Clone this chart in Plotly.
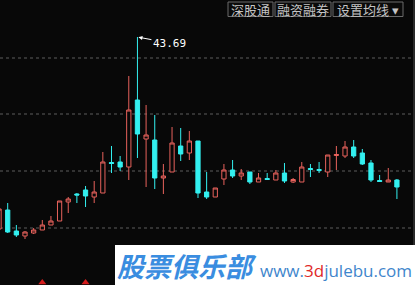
import plotly.graph_objects as go

# ---- data ----
idx = list(range(47))
opens = [24.49, 26.39, 24.29, 23.79, 24.09, 24.39, 24.89, 25.29, 27.19, 27.99,
         28.39, 27.69, 28.09, 31.14, 31.19, 30.69, 37.39, 33.49, 33.39, 29.59,
         30.19, 32.79, 32.09, 33.29, 28.19, 27.69, 29.49, 30.39, 29.79, 30.19,
         29.19, 29.54, 29.39, 30.09, 29.19, 29.19, 30.54, 30.44, 30.19, 31.84,
         31.79, 32.69, 32.09, 31.09, 29.34, 29.19, 29.39]
highs = [26.69, 27.09, 24.89, 24.29, 24.59, 25.39, 25.79, 27.29, 27.69, 28.09,
         28.79, 29.29, 32.19, 32.79, 31.79, 39.79, 43.69, 36.89, 35.89, 30.99,
         34.69, 34.59, 34.29, 33.29, 30.19, 28.59, 30.99, 31.39, 30.49, 30.19,
         30.09, 30.09, 30.39, 31.09, 29.59, 31.19, 30.99, 31.19, 31.89, 32.79,
         33.29, 33.39, 32.49, 31.39, 29.89, 30.59, 29.49]
lows = [24.39, 24.09, 23.69, 23.49, 23.99, 24.39, 24.89, 25.29, 26.09, 27.09,
        26.69, 27.09, 28.09, 30.09, 30.29, 29.39, 31.59, 28.69, 28.49, 27.99,
        30.19, 31.29, 31.39, 27.59, 27.49, 27.69, 28.89, 29.59, 29.39, 28.99,
        29.19, 29.39, 29.39, 29.09, 29.09, 29.19, 29.69, 30.09, 29.69, 30.39,
        31.59, 31.59, 30.89, 29.19, 29.19, 29.19, 27.49]
closes = [26.49, 24.19, 23.89, 24.19, 24.39, 24.89, 25.29, 27.29, 27.49, 27.89,
          27.79, 28.19, 31.19, 31.04, 30.69, 36.39, 33.99, 33.89, 29.59, 29.79,
          33.09, 31.99, 33.29, 28.09, 27.69, 28.59, 30.39, 29.79, 30.09, 29.19,
          29.59, 29.44, 30.09, 29.29, 29.44, 30.69, 30.44, 30.34, 31.89, 31.94,
          32.69, 31.79, 30.99, 29.39, 29.24, 29.39, 28.69]
grid_levels = [41.59, 35.99, 30.29, 24.59]
peak_label = "43.69"
peak_idx = 16
peak_price = 43.69
signal_idx = [5, 10]
signal_price = [19.15, 19.15]
buttons = ["深股通", "融资融券", "设置均线 ▾"]

W, H = 415, 285
UP = "#e8625c"
DOWN = "#33f0f0"

fig = go.Figure()
fig.add_trace(go.Candlestick(
    x=idx, open=opens, high=highs, low=lows, close=closes,
    increasing=dict(line=dict(color=UP, width=1), fillcolor="#080808"),
    decreasing=dict(line=dict(color=DOWN, width=1), fillcolor=DOWN),
    whiskerwidth=0, showlegend=False, hoverinfo="skip",
))
fig.add_trace(go.Scatter(
    x=signal_idx, y=signal_price, mode="markers",
    marker=dict(symbol="triangle-up", size=7, color="#d41c1c"),
    showlegend=False, hoverinfo="skip",
))

shapes = []
for g in grid_levels:
    shapes.append(dict(type="line", xref="paper", yref="y", x0=0, x1=411/W, y0=g, y1=g,
                       line=dict(color="#5c5c5c", width=1, dash="dot"), layer="below"))
# right border
shapes.append(dict(type="line", xref="paper", yref="paper", x0=414/W, x1=414/W, y0=1-245/H, y1=1,
                   line=dict(color="#4a4a4a", width=1)))

annotations = []
# buttons
bx = [(228, 273), (275, 331), (333, 403)]
for (x0, x1), t in zip(bx, buttons):
    shapes.append(dict(type="rect", xref="paper", yref="paper",
                       x0=x0/W, x1=x1/W, y0=1-16.5/H, y1=1-2/H,
                       line=dict(color="#6a6a6a", width=1), fillcolor="#0a0a0a"))
    annotations.append(dict(xref="paper", yref="paper", x=(x0+x1)/2/W, y=1-9.5/H,
                            text=t, showarrow=False, xanchor="center", yanchor="middle",
                            font=dict(family="Noto Sans CJK SC", size=13, color="#c4c4c4")))

# peak label
annotations.append(dict(x=peak_idx, y=peak_price, xref="x", yref="y", text=peak_label,
                        showarrow=True, arrowhead=2, arrowsize=0.8, arrowwidth=1,
                        arrowcolor="#ffffff", ax=32, ay=6, standoff=1,
                        font=dict(family="DejaVu Sans Mono", size=11, color="#ffffff")))

# watermark
shapes.append(dict(type="rect", xref="paper", yref="paper", x0=115/W, x1=1.0, y0=0, y1=1-245/H,
                   line=dict(width=0), fillcolor="#ffffff"))
annotations.append(dict(xref="paper", yref="paper", x=187/W, y=1-265/H,
                        text="<b><i>股票俱乐部</i></b>", showarrow=False,
                        xanchor="center", yanchor="middle",
                        font=dict(family="Noto Sans CJK SC", size=27, color="#3a8de0")))
annotations.append(dict(xref="paper", yref="paper", x=336/W, y=1-270/H,
                        text="www.<span style='color:#e02828'>3d</span>julebu.com", showarrow=False,
                        xanchor="center", yanchor="middle",
                        font=dict(family="Open Sans", size=17, color="#3f86cc")))

fig.update_layout(
    width=W, height=H, margin=dict(l=0, r=0, t=0, b=0),
    paper_bgcolor="#080808", plot_bgcolor="#080808",
    xaxis=dict(range=[0.11, 48.09], visible=False, rangeslider=dict(visible=False), fixedrange=True),
    yaxis=dict(range=[47.39 - 0.1*H, 47.39], visible=False, fixedrange=True),
    shapes=shapes, annotations=annotations,
)
fig.write_html("out.html")
